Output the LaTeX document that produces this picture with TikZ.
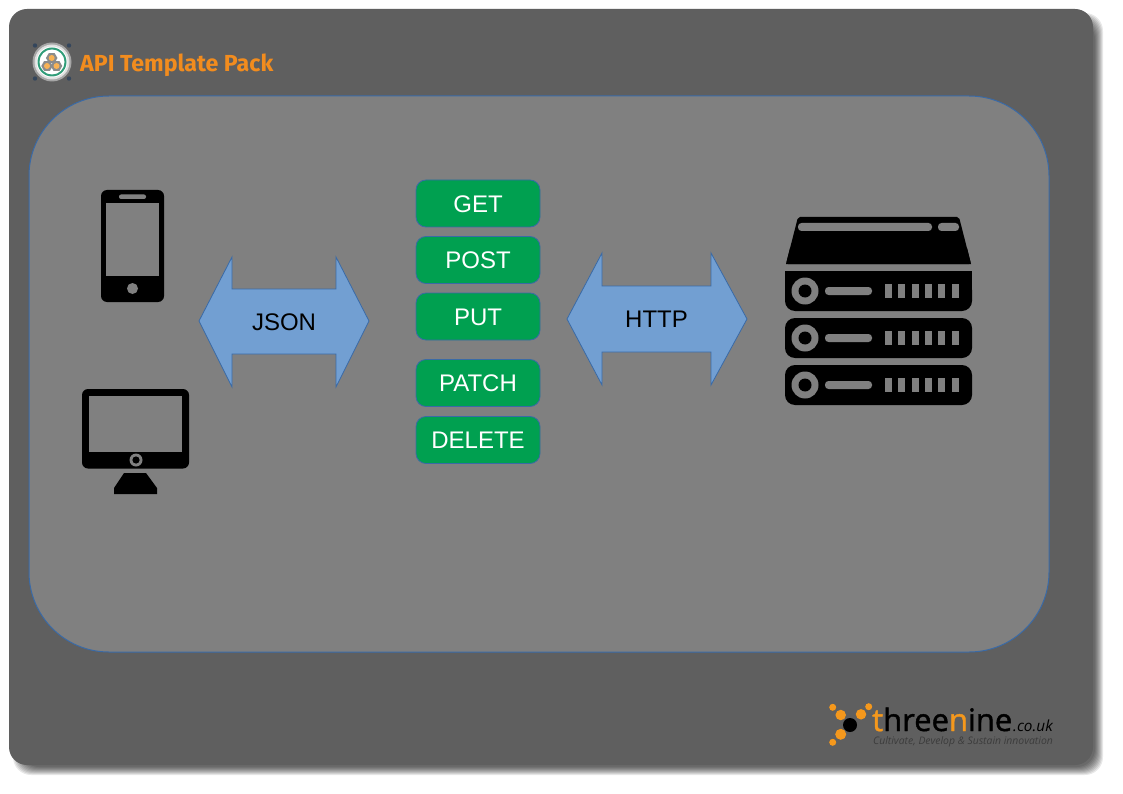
\documentclass[tikz,border=0pt]{standalone}
\usepackage{fontspec}
\setmainfont{Liberation Sans}
\newfontfamily\titlefont{Fira Sans}
\newfontfamily\logofont{Open Sans}
\newfontfamily\logoheavy[FakeBold=1.3]{Open Sans}
\usetikzlibrary{shapes.geometric}
\definecolor{cardgrey}{HTML}{5F5F5F}
\definecolor{panelgrey}{HTML}{808080}
\definecolor{edgeblue}{HTML}{3A6AA6}
\definecolor{arrowblue}{HTML}{729FD2}
\definecolor{btngreen}{HTML}{00A050}
\definecolor{tpl}{HTML}{F28C1E}
\definecolor{tnorange}{HTML}{F5981C}
\definecolor{tagdark}{HTML}{3C3C3C}
\definecolor{navydot}{HTML}{34465C}
\definecolor{ringgreen}{HTML}{2F9C78}
\tikzset{
  x=1pt,y=-1pt,
  card/.style={fill=cardgrey,draw=none,rounded corners=18pt},
  panel/.style={fill=panelgrey,draw=edgeblue,line width=1pt,rounded corners=80pt},
  arrowshape/.style={fill=arrowblue,draw=edgeblue,line width=0.8pt,line join=miter},
  verb/.style={fill=btngreen,draw=edgeblue,line width=0.8pt,rounded corners=10pt,minimum width=124pt,minimum height=47pt,inner sep=0pt,text=white,text height=17.2pt,text depth=0pt,font=\fontsize{24}{28}\selectfont},
  arrowtext/.style={inner sep=0pt,text=black,text height=17.2pt,text depth=0pt,font=\fontsize{24}{28}\selectfont},
  ink/.style={fill=black,draw=none},
  hole/.style={fill=panelgrey,draw=none},
  tnball/.style={circle,fill=tnorange,draw=none,inner sep=0pt},
}
\begin{document}
\begin{tikzpicture}
\useasboundingbox (0,0) rectangle (1123,794);
\fill[white] (0,0) rectangle (1123,794);
% shadow
\foreach \g in {4,3,...,-4}{
  \fill[black,opacity=0.09,rounded corners=18pt] (17-\g,17-\g) rectangle (1099+\g,771+\g);
}
% card
\path[card] (9,9) rectangle (1093,765);
% panel
\path[panel] (29,96) rectangle (1049,652);

% title logo
\fill[navydot] (35,45.5) circle (2.2) (69,45.5) circle (2.2) (35,78.5) circle (2.2) (69,78.5) circle (2.2);
\fill[black!35!white] (52,62) circle (19.5);
\fill[black!12!white] (52,62) circle (17.5);
\fill[white] (52,62) circle (15.5);
\fill[ringgreen] (52,62) circle (14.5);
\fill[white] (52,62) circle (12.5);
\foreach \p/\q in {51.7/58,47/66,56.5/66}{
  \node[regular polygon,regular polygon sides=6,minimum size=11.5pt,inner sep=0pt,fill=black!45!white,draw=none] at (\p,\q) {};
  \fill[tnorange!75!white] (\p,\q) circle (3);
}
\node[anchor=base west,inner sep=0pt,text=tpl,font=\titlefont\bfseries\fontsize{23.2}{26}\selectfont] (title) at (80,71.5) {API Template Pack};

% phone
\fill[ink,rounded corners=6pt] (101,190) rectangle (164,302);
\fill[hole] (106,203) rectangle (159,276);
\fill[hole,rounded corners=2pt] (119,194.5) rectangle (146,199);
\fill[hole] (132.5,288.5) circle (5.5);

% monitor
\fill[ink,rounded corners=6pt] (82,389) rectangle (189,468.5);
\fill[hole] (89,396) rectangle (182,452);
\fill[hole] (136,460) circle (6.5);
\fill[ink] (136,460) circle (3.6);
\fill[ink] (124,473) -- (146,473) -- (157,488) -- (157,494) -- (114,494) -- (114,488) -- cycle;

% arrows
\draw[arrowshape] (199,321) -- (232,257) -- (232,289) -- (336,289) -- (336,257) -- (369,321) -- (336,387) -- (336,354) -- (232,354) -- (232,387) -- cycle;
\node[arrowtext] (json) at (284,321.5) {JSON};
\draw[arrowshape] (567,319) -- (602,253) -- (602,286) -- (711,286) -- (711,253) -- (747,319) -- (711,385) -- (711,352) -- (602,352) -- (602,385) -- cycle;
\node[arrowtext] (http) at (656.5,318.5) {HTTP};

% verbs
\node[verb] (get) at (478,203.5) {GET};
\node[verb] (post) at (478,260) {POST};
\node[verb] (put) at (478,316.5) {PUT};
\node[verb] (patch) at (478,383) {PATCH};
\node[verb] (delete) at (478,440) {DELETE};

% server
\fill[ink,rounded corners=2pt] (786,264) -- (798,217) -- (959,217) -- (971,264) -- cycle;
\fill[ink] (786,264) -- (790,248) -- (967,248) -- (971,264) -- cycle;
\fill[hole,rounded corners=3.5pt] (798,223) rectangle (932,231);
\fill[hole,rounded corners=3.5pt] (938,223) rectangle (959,231);
\fill[ink,rounded corners=10pt] (785,280) -- (785,311) -- (972,311) -- (972,280) -- cycle;
\fill[ink] (785,271) rectangle (972,295);
\foreach \y in {318,365}{
  \fill[ink,rounded corners=10pt] (785,\y) rectangle (972,\y+40);
}
\foreach \y in {271,318,365}{
  \fill[hole] (805,\y+20) circle (13.5);
  \fill[ink] (805,\y+20) circle (6.5);
  \fill[hole,rounded corners=3.5pt] (825,\y+16) rectangle (872,\y+24);
  \foreach \i in {0,...,5}{
    \fill[hole] (885+\i*13.33,\y+13) rectangle (892+\i*13.33,\y+27);
  }
}

% threenine logo
\node[tnball,minimum size=7pt] (d1) at (832.7,707.3) {};
\node[tnball,minimum size=10.5pt] (d2) at (840.7,715) {};
\node[tnball,minimum size=7pt] (d3) at (868.7,706.7) {};
\node[tnball,minimum size=10.5pt] (d4) at (861,714.3) {};
\node[circle,fill=black,inner sep=0pt,minimum size=14pt] (d5) at (850,725) {};
\node[tnball,minimum size=11pt] (d6) at (840.7,734.3) {};
\node[tnball,minimum size=7pt] (d7) at (832.7,742.3) {};
\node[anchor=base west,inner sep=0pt,text=black,font=\logoheavy\fontsize{31}{33}\selectfont] (tnword) at (872,731) {\textcolor{tnorange}{t}hree\textcolor{tnorange}{n}ine};
\node[anchor=base west,inner sep=0pt,text=black,font=\logofont\itshape\fontsize{15.3}{16}\selectfont] (tncouk) at (1013,731) {.co.uk};
\node[anchor=base west,inner sep=0pt,text=tagdark,font=\logofont\itshape\fontsize{10.4}{12}\selectfont] (tntag) at (873,744.5) {Cultivate, Develop \& Sustain innovation};
\end{tikzpicture}
\end{document}
